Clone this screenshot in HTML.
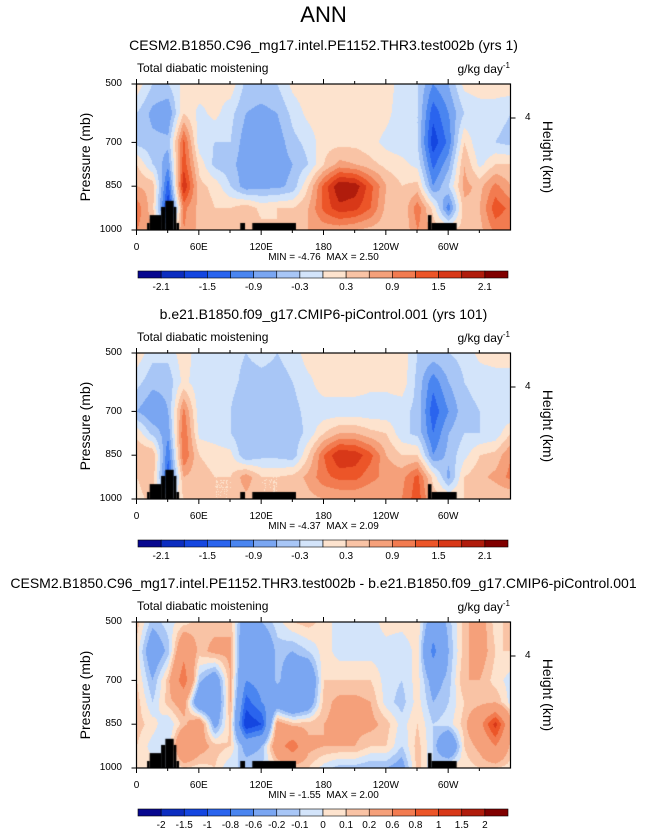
<!DOCTYPE html>
<html><head><meta charset="utf-8">
<style>
body{margin:0;background:#fff;width:647px;height:830px;overflow:hidden;position:relative;font-family:"Liberation Sans",Arial,sans-serif}
.t{position:absolute;white-space:nowrap;color:#000}
canvas{position:absolute}
</style></head>
<body>
<div id="root"></div>
<script>
// ---- data ----
const lons=[0,15,30,45,60,75,90,105,120,135,150,165,180,195,210,225,240,255,270,285,300,315,330,345,360];
const plevs=[500,600,700,775,850,925,1000];
const field1=[
[0.2,-0.3,-0.3,0.1,0.2,0.1,0.2,-0.4,-0.4,-0.3,0.1,0.2,0.2,0.2,0.2,0.2,0.2,-0.2,-0.3,-0.9,-0.6,0.1,0.2,0.2,0.2],
[-0.3,-0.7,-0.9,0.3,-0.1,0.1,-0.2,-0.6,-0.7,-0.6,-0.2,0.1,0.2,0.2,0.2,0.2,0.1,-0.2,-0.3,-1.4,-0.9,-0.3,-0.2,-0.2,-0.3],
[-0.4,-0.5,-0.5,1.3,-0.2,-0.3,-0.3,-0.8,-0.7,-0.8,-0.4,-0.2,0.2,0.2,0.2,0.1,-0.1,-0.2,-0.3,-1.7,-1.1,0.3,-0.3,-0.3,-0.4],
[0.3,-0.3,-0.8,1.4,0.2,-0.4,-0.5,-0.8,-0.8,-0.8,-0.6,-0.3,0.3,0.7,0.6,0.4,0.2,0.1,-0.1,-1.3,-0.7,0.6,-0.1,0.3,0.3],
[0.6,0.5,-1.4,1.8,0.4,0.2,-0.3,-0.8,-0.7,-0.7,-0.5,0.3,1.3,2.1,2.0,1.3,0.6,0.3,0.4,-0.9,-0.3,0.7,0.5,1.0,0.6],
[1.1,0.4,-1.8,1.0,0.5,0.3,0.3,0.5,0.2,0.3,0.3,0.6,1.3,1.7,1.6,1.2,0.5,0.3,1.1,0.2,-1.1,0.5,0.6,1.4,1.1],
[0.9,0.6,-0.4,0.9,0.5,0.4,0.4,0.5,0.4,0.3,0.4,0.6,0.7,0.7,0.6,0.5,0.4,0.3,0.9,0.5,0.3,0.4,0.5,1.0,0.9]];
const field2=[
[0.2,-0.2,-0.2,0.2,-0.2,-0.2,-0.2,-0.3,-0.2,-0.3,-0.2,0.2,0.2,0.2,0.2,0.2,0.2,0.2,-0.3,-0.4,-0.3,-0.2,0.1,0.2,0.2],
[-0.2,-0.5,-0.5,0.1,-0.2,-0.2,-0.2,-0.4,-0.4,-0.4,-0.3,-0.1,0.2,0.2,0.2,0.1,0.1,0.2,-0.4,-1.1,-0.6,-0.3,-0.2,-0.2,-0.2],
[-0.6,-0.9,-0.6,1.0,-0.2,-0.2,-0.3,-0.6,-0.6,-0.6,-0.4,-0.2,-0.2,-0.2,-0.2,-0.2,-0.2,-0.2,-0.4,-1.4,-0.9,-0.4,-0.3,-0.2,-0.3],
[0.2,-0.4,-0.8,1.2,-0.1,-0.2,-0.3,-0.6,-0.5,-0.6,-0.5,-0.2,0.3,0.6,0.6,0.4,0.3,-0.2,-0.4,-1.2,-0.6,-0.3,-0.3,-0.2,0.3],
[0.6,0.6,-1.2,1.2,0.3,0.2,0.1,-0.6,-0.4,-0.4,-0.5,0.3,1.2,1.8,1.7,1.3,0.6,0.3,0.3,-0.9,-0.5,-0.1,0.3,0.4,0.9],
[0.3,0.5,-1.4,0.6,0.4,0.3,0.3,0.8,0.3,0.3,0.4,0.7,1.1,1.3,1.3,1.0,0.8,0.8,1.3,0.2,-0.7,0.3,0.5,0.7,1.0],
[0.2,0.4,-0.2,0.3,0.3,0.3,0.3,0.5,0.3,0.3,0.3,0.5,0.6,0.6,0.6,0.6,0.7,0.9,1.4,0.5,0.3,0.3,0.3,0.3,0.3]];
const field3=[
[0.15,-0.15,-0.05,0.05,0.15,0.15,0.15,-0.4,-0.2,-0.05,0.1,0.15,0.05,-0.05,-0.05,-0.05,0.05,0.05,0.1,-0.4,-0.15,0.15,0.3,0.05,0.15],
[0.05,-0.4,-0.15,0.5,0.15,0.25,0.25,-0.6,-0.5,-0.15,-0.2,-0.1,0.05,-0.05,-0.05,-0.05,-0.05,-0.1,0.05,-0.7,-0.2,0.15,0.3,0.1,0.1],
[0.1,-0.2,0.15,0.8,-0.15,-0.4,0.2,-0.6,-0.5,-0.15,-0.4,-0.5,0.1,0.1,0.1,0.1,-0.05,-0.1,0.05,-0.3,-0.15,0.2,0.2,0.05,-0.05],
[0.15,-0.1,0.15,0.3,-0.5,-0.5,0.2,-0.9,-0.6,-0.4,-0.6,-0.4,0.15,0.25,0.25,0.2,-0.05,-0.15,0.05,-0.2,-0.1,0.1,0.15,0.2,-0.05],
[0.15,0.05,-0.1,0.15,0.4,-0.3,0.15,-1.2,-1.0,0.3,0.15,0.15,0.2,0.25,0.25,0.25,0.15,-0.05,0.1,-0.1,-0.05,0.15,0.5,1.1,0.3],
[0.1,-0.05,-0.1,0.6,0.3,0.15,0.1,-0.3,-0.2,0.4,0.8,0.25,0.2,0.2,0.2,0.1,0.1,-0.1,0.15,-0.1,-0.6,0.1,0.25,0.6,0.15],
[0.05,0.05,-0.1,0.1,0.05,0.1,-0.1,-0.1,-0.1,0.05,0.1,0.1,-0.05,-0.15,-0.15,-0.2,-0.2,-0.3,0.15,-0.1,0.1,0.05,0.1,0.1,0.05]];
const levelsA=[-2.1,-1.8,-1.5,-1.2,-0.9,-0.6,-0.3,0,0.3,0.6,0.9,1.2,1.5,1.8,2.1];
const labelsA=["-2.1","-1.5","-0.9","-0.3","0.3","0.9","1.5","2.1"];
const levelsB=[-2,-1.5,-1,-0.8,-0.6,-0.2,-0.1,0,0.1,0.2,0.6,0.8,1,1.5,2];
const labelsB=["-2","-1.5","-1","-0.8","-0.6","-0.2","-0.1","0","0.1","0.2","0.6","0.8","1","1.5","2"];
const palette=["#08088f","#0c2dc0","#1446e0","#2a64ee","#4a85f0","#7aa6f2","#a8c6f6","#d3e4fa","#fde3ce","#f9c3a5","#f5a07a","#f27b50","#ec5528","#d83818","#b01c0c","#800000"];
// land: [lonStart, lonEnd, topPressure]
const land=[[9.7,12.2,976],[12.2,23.2,949],[23.2,27.3,921],[27.3,35.3,900],[35.3,37.9,921],[37.9,40.5,976],[99.4,104,976],[111,153,976],[280,283.5,949],[283.5,307.7,976]];
const xTicks=[0,60,120,180,240,300];
const xLabels=["0","60E","120E","180","120W","60W"];
const pTicks=[500,700,850,1000];
const minmax=[["-4.76","2.50"],["-4.37","2.09"],["-1.55","2.00"]];
const titles=["CESM2.B1850.C96_mg17.intel.PE1152.THR3.test002b (yrs 1)","b.e21.B1850.f09_g17.CMIP6-piControl.001 (yrs 101)","CESM2.B1850.C96_mg17.intel.PE1152.THR3.test002b - b.e21.B1850.f09_g17.CMIP6-piControl.001"];

const root=document.getElementById('root');
const X0=136.5,W=374,H=146;
function xs(lon){return X0+lon/360*W;}
function ysF(top){return p=>top+(p-500)/500*H;}
function txt(s,x,y,size,name,align,extra){
  const d=document.createElement('div');d.className='t';d.textContent=s;
  d.style.fontSize=size+'px';d.style.top=(y-size*0.58)+'px';
  if(align==='c'){d.style.left=x+'px';d.style.transform='translateX(-50%)';}
  else if(align==='r'){d.style.right=(647-x)+'px';}
  else d.style.left=x+'px';
  if(extra)Object.assign(d.style,extra);
  
  
  root.appendChild(d);return d;
}
function colorFor(v,levels){let i=0;while(i<levels.length&&v>=levels[i])i++;return palette[i];}
function hex(c){return [parseInt(c.substr(1,2),16),parseInt(c.substr(3,2),16),parseInt(c.substr(5,2),16)];}
function sample(field,lon,p){
  let i=0;while(i<lons.length-2&&lon>lons[i+1])i++;
  let j=0;while(j<plevs.length-2&&p>plevs[j+1])j++;
  const tx=(lon-lons[i])/(lons[i+1]-lons[i]),ty=(p-plevs[j])/(plevs[j+1]-plevs[j]);
  const a=field[j][i],b=field[j][i+1],c=field[j+1][i],d=field[j+1][i+1];
  return a*(1-tx)*(1-ty)+b*tx*(1-ty)+c*(1-tx)*ty+d*tx*ty;
}
const NS='http://www.w3.org/2000/svg';
function panel(k,top,field,levels,labels){
  const yp=ysF(top);
  txt(titles[k],323.5,top-39,14,'panel-title-'+(k+1),'c');
  txt('Total diabatic moistening',137,top-16,12,'variable-label-'+(k+1));
  const u=txt('g/kg day',504,top-16,12,'units-label-'+(k+1),'r');
  const sup=document.createElement('sup');sup.textContent='-1';sup.style.fontSize='8px';u.appendChild(sup);u.style.right=(647-510)+'px';
  const cv=document.createElement('canvas');cv.width=W;cv.height=H;cv.style.left=X0+'px';cv.style.top=top+'px';
  
  
  root.appendChild(cv);
  const ctx=cv.getContext('2d');const img=ctx.createImageData(W,H);
  for(let py=0;py<H;py++){const p=500+(py+0.5)/H*500;
    for(let px=0;px<W;px++){const lon=(px+0.5)/W*360;
      const c=hex(colorFor(sample(field,lon,p),levels));const o=(py*W+px)*4;
      img.data[o]=c[0];img.data[o+1]=c[1];img.data[o+2]=c[2];img.data[o+3]=255;}}
  ctx.putImageData(img,0,0);
  ctx.fillStyle='#000';
  land.forEach(l=>{const x1=xs(l[0])-X0,x2=xs(l[1])-X0,y1=yp(l[2])-top;ctx.fillRect(x1,y1,x2-x1,H-y1);});
  const svg=document.createElementNS(NS,'svg');svg.setAttribute('width',647);svg.setAttribute('height',830);
  svg.style.position='absolute';svg.style.left='0';svg.style.top='0';
  
  
  root.appendChild(svg);
  function line(x1,y1,x2,y2,w){const l=document.createElementNS(NS,'line');l.setAttribute('x1',x1);l.setAttribute('y1',y1);l.setAttribute('x2',x2);l.setAttribute('y2',y2);l.setAttribute('stroke','#000');l.setAttribute('stroke-width',w||1);svg.appendChild(l);}
  const r=document.createElementNS(NS,'rect');r.setAttribute('x',X0);r.setAttribute('y',top);r.setAttribute('width',W);r.setAttribute('height',H);r.setAttribute('fill','none');r.setAttribute('stroke','#000');r.setAttribute('stroke-width',1.2);svg.appendChild(r);
  for(let lon=0;lon<360;lon+=30){const major=lon%60===0;const L=major?5:3;
    line(xs(lon),top+H,xs(lon),top+H+L);line(xs(lon),top,xs(lon),top-L);}
  xTicks.forEach((t,i)=>txt(xLabels[i],xs(t),top+H+18,10,'x-tick-label','c'));
  pTicks.forEach(p=>{line(X0,yp(p),X0-5,yp(p));txt(String(p),122,yp(p),10,'y-tick-label','r');});
  const h4=top+34;line(X0+W,h4,X0+W+5,h4);txt('4',525,h4,10,'height-tick-label');
  const yl=txt('Pressure (mb)',85,top+H/2,14,'y-axis-title','c');yl.style.transform='translateX(-50%) rotate(-90deg)';
  const hl=txt('Height (km)',548,top+H/2,14,'right-axis-title','c');hl.style.transform='translateX(-50%) rotate(90deg)';
  txt('MIN = '+minmax[k][0]+'  MAX = '+minmax[k][1],323.5,top+H+28,10,'min-max-label','c',{whiteSpace:'pre'});
  const cy=top+187,cx=138,cw=370,n=palette.length,bw=cw/n;
  palette.forEach((c,i)=>{const b=document.createElementNS(NS,'rect');b.setAttribute('x',cx+i*bw);b.setAttribute('y',cy);b.setAttribute('width',bw);b.setAttribute('height',7);b.setAttribute('fill',c);b.setAttribute('stroke','#000');b.setAttribute('stroke-width',0.6);
    
    
    svg.appendChild(b);});
  const step=(levels.length===labels.length)?1:2;
  labels.forEach((s,i)=>{const bi=i*step;txt(s,cx+(bi+1)*bw,cy+17,10,'colorbar-label','c');});
}
txt('ANN',323.5,15,22,'main-title','c');
panel(0,84,field1,levelsA,labelsA);
panel(1,353,field2,levelsA,labelsA);
panel(2,622,field3,levelsB,labelsB);
</script>
</body></html>
